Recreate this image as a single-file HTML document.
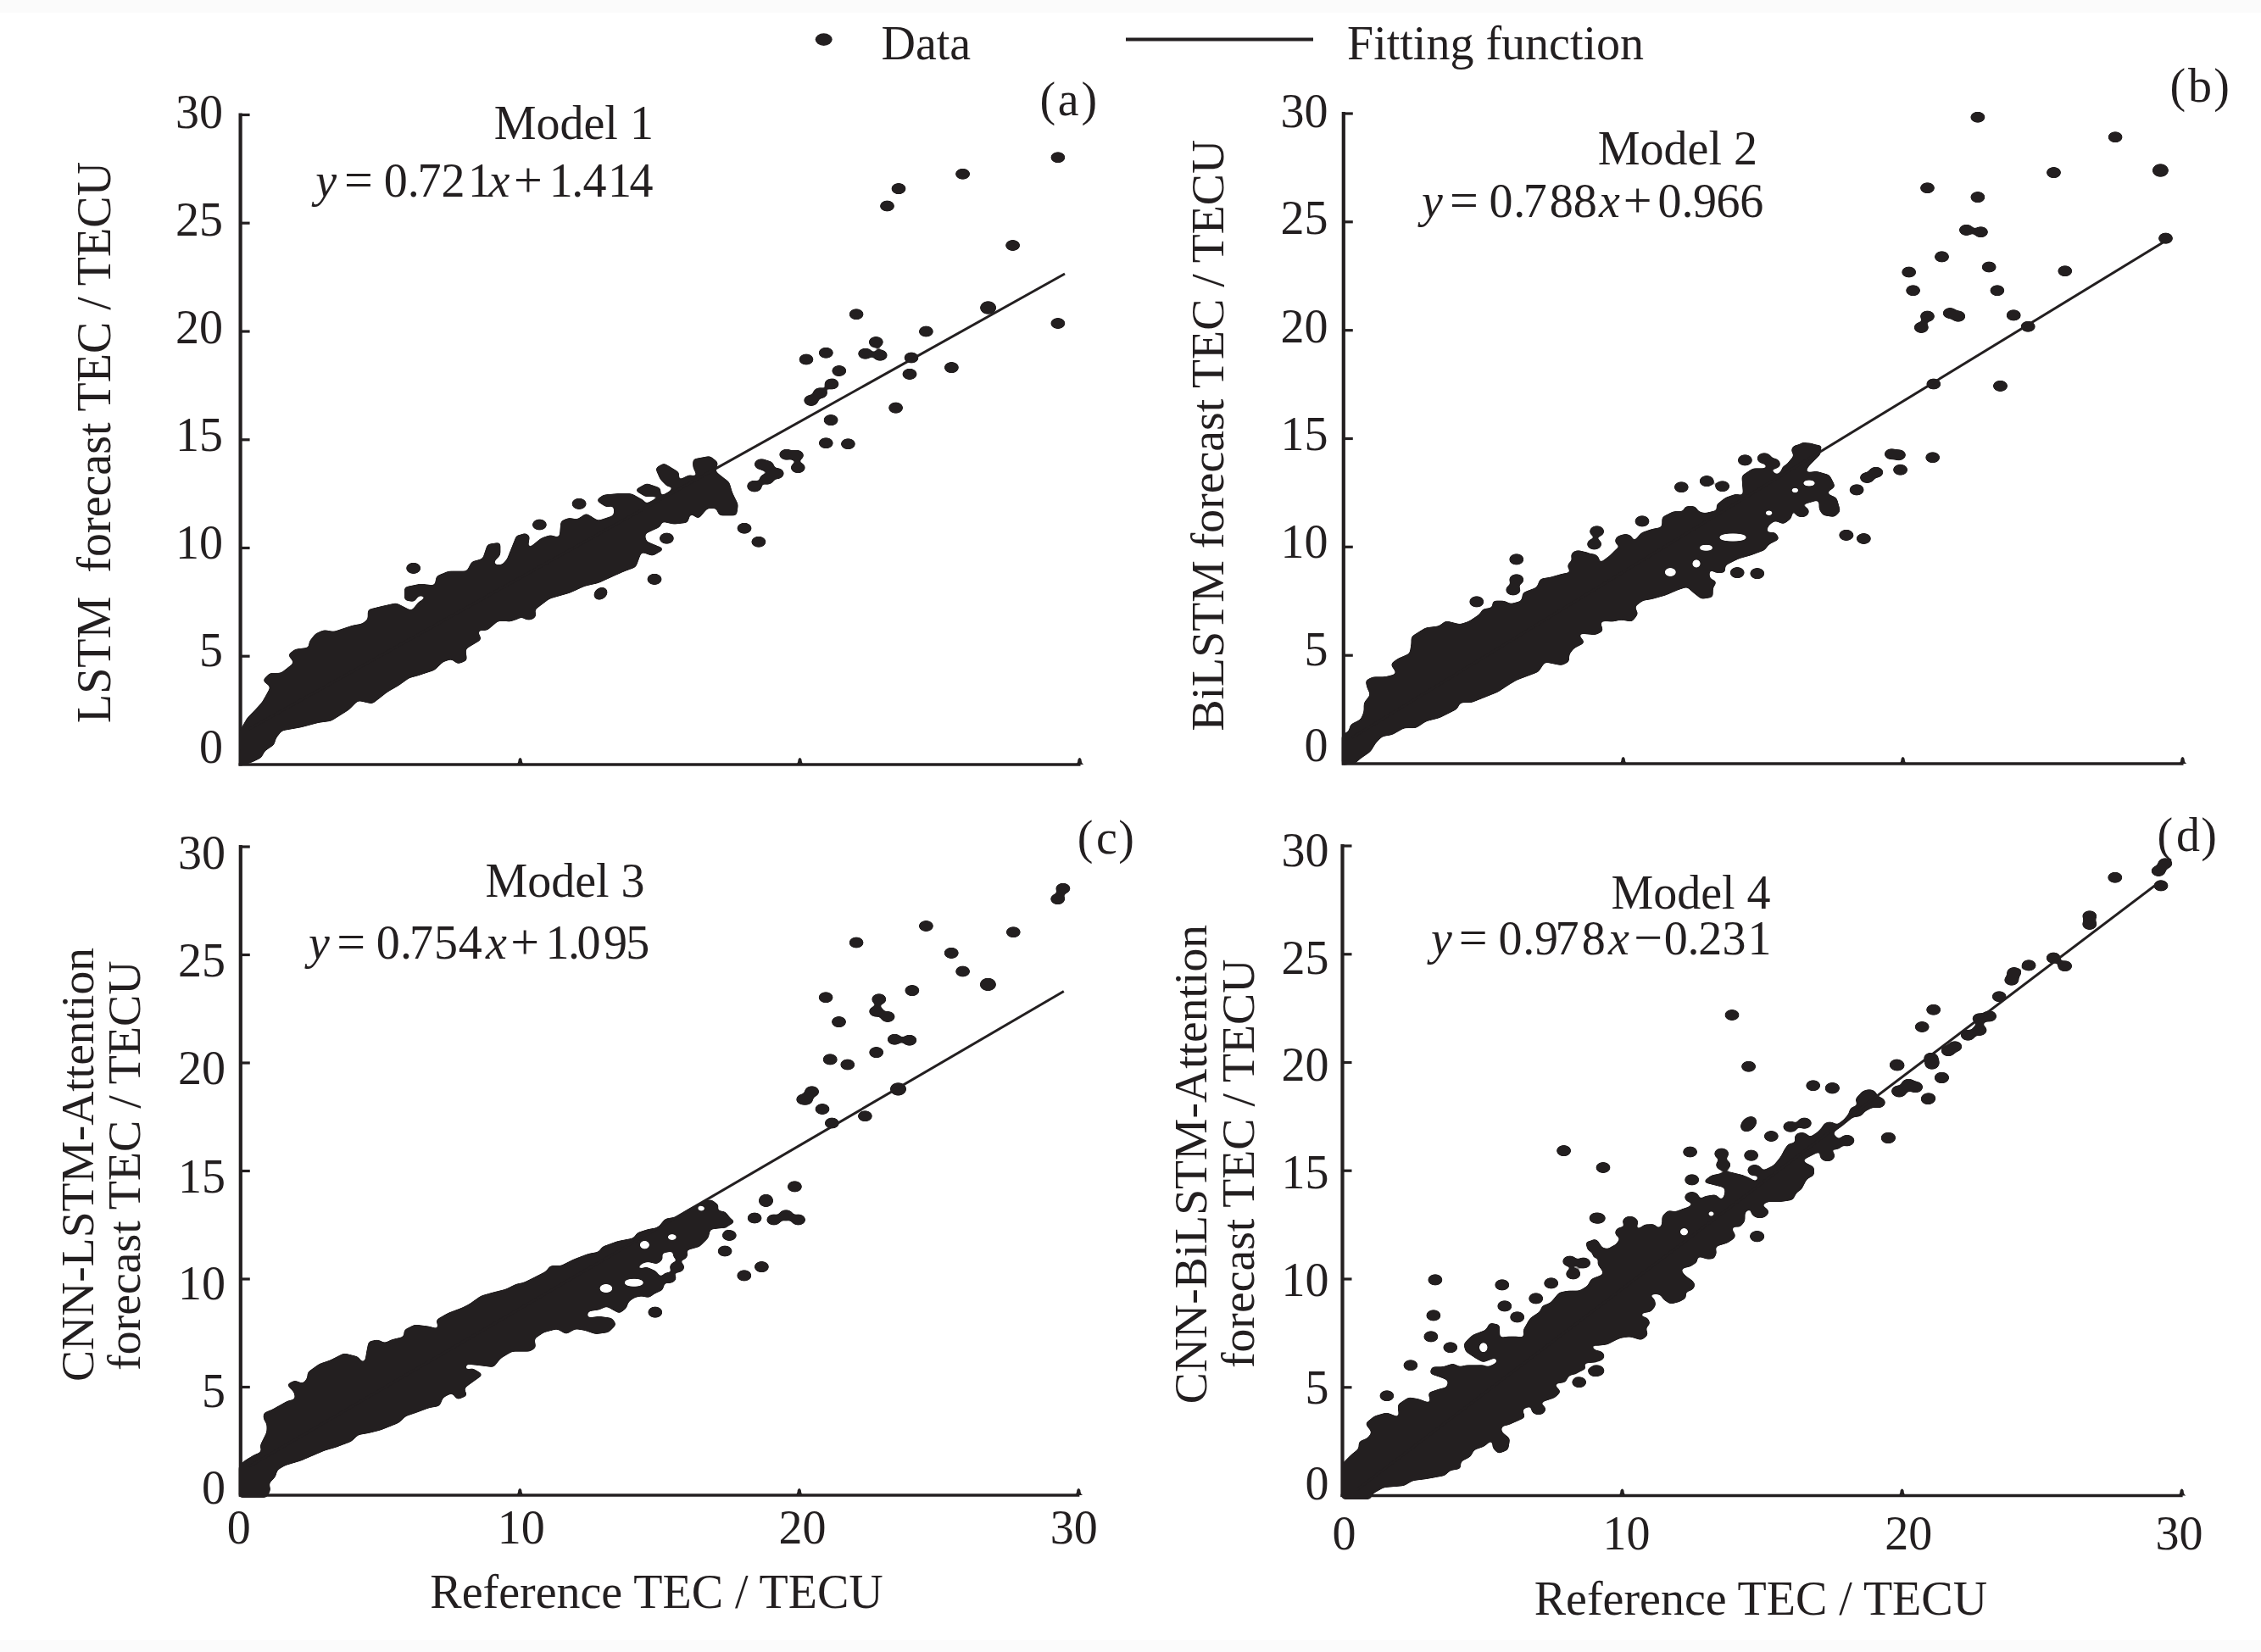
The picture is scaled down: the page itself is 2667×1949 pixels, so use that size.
<!DOCTYPE html>
<html><head><meta charset="utf-8"><style>
html,body{margin:0;padding:0;background:#fff;}
svg{display:block;}
</style></head><body>
<svg width="2667" height="1949" viewBox="0 0 2667 1949" fill="#231f20" font-family="'Liberation Serif', serif">
<rect x="0" y="0" width="2667" height="1949" fill="#fff"/>
<rect x="0" y="0" width="2667" height="15" fill="#fbfbfb"/>
<rect x="0" y="1935" width="2667" height="14" fill="#fbfbfb"/>
<ellipse cx="971.7" cy="46.6" rx="10" ry="7.3" fill="#231f20"/>
<text x="1039.5" y="69.5" font-size="56" text-anchor="start" >Data</text>
<path d="M1328,46.5 H1549" stroke="#231f20" stroke-width="4" fill="none"/>
<text x="1589" y="69.5" font-size="56" text-anchor="start" >Fitting function</text>
<text x="263" y="151.2" font-size="56" text-anchor="end" >30</text>
<text x="263" y="278.3" font-size="56" text-anchor="end" >25</text>
<text x="263" y="405.3" font-size="56" text-anchor="end" >20</text>
<text x="263" y="532.3" font-size="56" text-anchor="end" >15</text>
<text x="263" y="659" font-size="56" text-anchor="end" >10</text>
<text x="263" y="785.8" font-size="56" text-anchor="end" >5</text>
<text x="263" y="900" font-size="56" text-anchor="end" >0</text>
<text x="1566.5" y="149.7" font-size="56" text-anchor="end" >30</text>
<text x="1566.5" y="275.6" font-size="56" text-anchor="end" >25</text>
<text x="1566.5" y="403.9" font-size="56" text-anchor="end" >20</text>
<text x="1566.5" y="531.3" font-size="56" text-anchor="end" >15</text>
<text x="1566.5" y="657.7" font-size="56" text-anchor="end" >10</text>
<text x="1566.5" y="785.2" font-size="56" text-anchor="end" >5</text>
<text x="1566.5" y="897.8" font-size="56" text-anchor="end" >0</text>
<text x="266" y="1024.5" font-size="56" text-anchor="end" >30</text>
<text x="266" y="1151.5" font-size="56" text-anchor="end" >25</text>
<text x="266" y="1278.5" font-size="56" text-anchor="end" >20</text>
<text x="266" y="1406.5" font-size="56" text-anchor="end" >15</text>
<text x="266" y="1533.1" font-size="56" text-anchor="end" >10</text>
<text x="266" y="1660.1" font-size="56" text-anchor="end" >5</text>
<text x="266" y="1773.5" font-size="56" text-anchor="end" >0</text>
<text x="1567.5" y="1022" font-size="56" text-anchor="end" >30</text>
<text x="1567.5" y="1148.5" font-size="56" text-anchor="end" >25</text>
<text x="1567.5" y="1275" font-size="56" text-anchor="end" >20</text>
<text x="1567.5" y="1402" font-size="56" text-anchor="end" >15</text>
<text x="1567.5" y="1528.5" font-size="56" text-anchor="end" >10</text>
<text x="1567.5" y="1655.5" font-size="56" text-anchor="end" >5</text>
<text x="1567.5" y="1769" font-size="56" text-anchor="end" >0</text>
<text x="267.8" y="1820.5" font-size="56" text-anchor="start" >0</text>
<text x="586.8" y="1820.5" font-size="56" text-anchor="start" >10</text>
<text x="918.5" y="1820.5" font-size="56" text-anchor="start" >20</text>
<text x="1238.8" y="1820.5" font-size="56" text-anchor="start" >30</text>
<text x="1571.6" y="1828.2" font-size="56" text-anchor="start" >0</text>
<text x="1890.6" y="1828.2" font-size="56" text-anchor="start" >10</text>
<text x="2223.3" y="1828.2" font-size="56" text-anchor="start" >20</text>
<text x="2542.6" y="1828.2" font-size="56" text-anchor="start" >30</text>
<text x="507.3" y="1896.8" font-size="56" text-anchor="start" >Reference TEC / TECU</text>
<text x="1809.7" y="1904.5" font-size="56" text-anchor="start" >Reference TEC / TECU</text>
<text transform="translate(130.3,853) rotate(-90)" font-size="56">LSTM&#160; forecast TEC / TECU</text>
<text transform="translate(1442.7,862.6) rotate(-90)" font-size="55.76">BiLSTM forecast TEC / TECU</text>
<text transform="translate(110,1629.9) rotate(-90)" font-size="55.5">CNN-LSTM-Attention</text>
<text transform="translate(165,1616.9) rotate(-90)" font-size="55.86">forecast TEC / TECU</text>
<text transform="translate(1423,1656.2) rotate(-90)" font-size="55.6">CNN-BiLSTM-Attention</text>
<text transform="translate(1478.5,1614.1) rotate(-90)" font-size="55.75">forecast TEC / TECU</text>
<text x="770.9" y="164" font-size="56" text-anchor="end" >Model 1</text>
<text x="2073" y="193.5" font-size="56" text-anchor="end" >Model 2</text>
<text x="760.6" y="1058" font-size="56" text-anchor="end" >Model 3</text>
<text x="2088.6" y="1071.6" font-size="56" text-anchor="end" >Model 4</text>
<text x="1226.6" y="136" font-size="56" text-anchor="start" >(</text>
<text x="1247.7" y="136" font-size="56" text-anchor="start" >a</text>
<text x="1275.4" y="136" font-size="56" text-anchor="start" >)</text>
<text x="2559.5" y="120.3" font-size="56" text-anchor="start" >(</text>
<text x="2580.9" y="120.3" font-size="56" text-anchor="start" >b</text>
<text x="2611.2" y="120.3" font-size="56" text-anchor="start" >)</text>
<text x="1270.7" y="1007.3" font-size="56" text-anchor="start" >(</text>
<text x="1292.9" y="1007.3" font-size="56" text-anchor="start" >c</text>
<text x="1319.2" y="1007.3" font-size="56" text-anchor="start" >)</text>
<text x="2544.5" y="1004.3" font-size="56" text-anchor="start" >(</text>
<text x="2566.9" y="1004.3" font-size="56" text-anchor="start" >d</text>
<text x="2596.3" y="1004.3" font-size="56" text-anchor="start" >)</text>
<text x="372.3" y="232.2" font-size="56" font-style="italic">y</text>
<text x="406.0" y="232.2" font-size="60">=</text>
<text x="452.7" y="232.2" font-size="56">0</text>
<text x="480.7" y="232.2" font-size="56">.</text>
<text x="492.5" y="232.2" font-size="56">7</text>
<text x="520.6" y="232.2" font-size="56">2</text>
<text x="551.9" y="232.2" font-size="56">1</text>
<text x="576.5" y="232.2" font-size="56" font-style="italic">x</text>
<text x="605.9" y="232.2" font-size="60">+</text>
<text x="647.8" y="232.2" font-size="56">1</text>
<text x="674.3" y="232.2" font-size="56">.</text>
<text x="687.6" y="232.2" font-size="56">4</text>
<text x="716.9" y="232.2" font-size="56">1</text>
<text x="742.6" y="232.2" font-size="56">4</text>
<text x="1677.1" y="255.5" font-size="56" font-style="italic">y</text>
<text x="1709.9" y="255.5" font-size="60">=</text>
<text x="1756.4" y="255.5" font-size="56">0</text>
<text x="1785.3" y="255.5" font-size="56">.</text>
<text x="1796.7" y="255.5" font-size="56">7</text>
<text x="1827.7" y="255.5" font-size="56">8</text>
<text x="1855.7" y="255.5" font-size="56">8</text>
<text x="1886.1" y="255.5" font-size="56" font-style="italic">x</text>
<text x="1914.7" y="255.5" font-size="60">+</text>
<text x="1955.5" y="255.5" font-size="56">0</text>
<text x="1983.4" y="255.5" font-size="56">.</text>
<text x="1997.1" y="255.5" font-size="56">9</text>
<text x="2024.6" y="255.5" font-size="56">6</text>
<text x="2052.2" y="255.5" font-size="56">6</text>
<text x="364.0" y="1131.1" font-size="56" font-style="italic">y</text>
<text x="397.2" y="1131.1" font-size="60">=</text>
<text x="443.7" y="1131.1" font-size="56">0</text>
<text x="472.1" y="1131.1" font-size="56">.</text>
<text x="483.0" y="1131.1" font-size="56">7</text>
<text x="511.9" y="1131.1" font-size="56">5</text>
<text x="540.7" y="1131.1" font-size="56">4</text>
<text x="573.0" y="1131.1" font-size="56" font-style="italic">x</text>
<text x="602.2" y="1131.1" font-size="60">+</text>
<text x="643.4" y="1131.1" font-size="56">1</text>
<text x="669.9" y="1131.1" font-size="56">.</text>
<text x="680.5" y="1131.1" font-size="56">0</text>
<text x="712.1" y="1131.1" font-size="56">9</text>
<text x="738.2" y="1131.1" font-size="56">5</text>
<text x="1688.0" y="1126" font-size="56" font-style="italic">y</text>
<text x="1720.8" y="1126" font-size="60">=</text>
<text x="1767.4" y="1126" font-size="56">0</text>
<text x="1796.2" y="1126" font-size="56">.</text>
<text x="1809.9" y="1126" font-size="56">9</text>
<text x="1834.6" y="1126" font-size="56">7</text>
<text x="1865.7" y="1126" font-size="56">8</text>
<text x="1897.0" y="1126" font-size="56" font-style="italic">x</text>
<text x="1927.2" y="1126" font-size="60">−</text>
<text x="1962.7" y="1126" font-size="56">0</text>
<text x="1990.6" y="1126" font-size="56">.</text>
<text x="2003.2" y="1126" font-size="56">2</text>
<text x="2031.5" y="1126" font-size="56">3</text>
<text x="2061.6" y="1126" font-size="56">1</text>
<path d="M283.6,133.5 V903.5" stroke="#231f20" stroke-width="4.2" fill="none"/>
<path d="M281.6,902.0 H1274.5" stroke="#231f20" stroke-width="3.4" fill="none"/>
<path d="M283.6,774.2 h11" stroke="#231f20" stroke-width="3.2" fill="none"/>
<path d="M283.6,646.5 h11" stroke="#231f20" stroke-width="3.2" fill="none"/>
<path d="M283.6,518.8 h11" stroke="#231f20" stroke-width="3.2" fill="none"/>
<path d="M283.6,391.0 h11" stroke="#231f20" stroke-width="3.2" fill="none"/>
<path d="M283.6,263.2 h11" stroke="#231f20" stroke-width="3.2" fill="none"/>
<path d="M283.6,135.5 h11" stroke="#231f20" stroke-width="3.2" fill="none"/>
<path d="M608.6,902.0 Q611.4,901.0 611.6,896.0 Q613.6,892.0 615.6,896.0 Q615.8,901.0 618.6,902.0Z" fill="#231f20"/>
<path d="M938.5,902.0 Q941.3,901.0 941.5,896.0 Q943.5,892.0 945.5,896.0 Q945.7,901.0 948.5,902.0Z" fill="#231f20"/>
<path d="M1268.5,902.0 Q1271.3,901.0 1271.5,896.0 Q1273.5,892.0 1275.5,896.0 Q1275.7,901.0 1278.5,902.0Z" fill="#231f20"/>
<path d="M1584.8,132.0 V902.5" stroke="#231f20" stroke-width="4.2" fill="none"/>
<path d="M1582.8,901.0 H2575.5" stroke="#231f20" stroke-width="3.4" fill="none"/>
<path d="M1584.8,773.2 h11" stroke="#231f20" stroke-width="3.2" fill="none"/>
<path d="M1584.8,645.3 h11" stroke="#231f20" stroke-width="3.2" fill="none"/>
<path d="M1584.8,517.5 h11" stroke="#231f20" stroke-width="3.2" fill="none"/>
<path d="M1584.8,389.7 h11" stroke="#231f20" stroke-width="3.2" fill="none"/>
<path d="M1584.8,261.8 h11" stroke="#231f20" stroke-width="3.2" fill="none"/>
<path d="M1584.8,134.0 h11" stroke="#231f20" stroke-width="3.2" fill="none"/>
<path d="M1909.7,901.0 Q1912.5,900.0 1912.7,895.0 Q1914.7,891.0 1916.7,895.0 Q1916.9,900.0 1919.7,901.0Z" fill="#231f20"/>
<path d="M2239.6,901.0 Q2242.4,900.0 2242.6,895.0 Q2244.6,891.0 2246.6,895.0 Q2246.8,900.0 2249.6,901.0Z" fill="#231f20"/>
<path d="M2569.5,901.0 Q2572.3,900.0 2572.5,895.0 Q2574.5,891.0 2576.5,895.0 Q2576.7,900.0 2579.5,901.0Z" fill="#231f20"/>
<path d="M283.8,997.0 V1765.5" stroke="#231f20" stroke-width="4.2" fill="none"/>
<path d="M281.8,1764.0 H1273.3" stroke="#231f20" stroke-width="3.4" fill="none"/>
<path d="M283.8,1636.5 h11" stroke="#231f20" stroke-width="3.2" fill="none"/>
<path d="M283.8,1509.0 h11" stroke="#231f20" stroke-width="3.2" fill="none"/>
<path d="M283.8,1381.5 h11" stroke="#231f20" stroke-width="3.2" fill="none"/>
<path d="M283.8,1254.0 h11" stroke="#231f20" stroke-width="3.2" fill="none"/>
<path d="M283.8,1126.5 h11" stroke="#231f20" stroke-width="3.2" fill="none"/>
<path d="M283.8,999.0 h11" stroke="#231f20" stroke-width="3.2" fill="none"/>
<path d="M608.3,1764.0 Q611.1,1763.0 611.3,1758.0 Q613.3,1754.0 615.3,1758.0 Q615.5,1763.0 618.3,1764.0Z" fill="#231f20"/>
<path d="M937.8,1764.0 Q940.6,1763.0 940.8,1758.0 Q942.8,1754.0 944.8,1758.0 Q945.0,1763.0 947.8,1764.0Z" fill="#231f20"/>
<path d="M1267.3,1764.0 Q1270.1,1763.0 1270.3,1758.0 Q1272.3,1754.0 1274.3,1758.0 Q1274.5,1763.0 1277.3,1764.0Z" fill="#231f20"/>
<path d="M1583.5,996.0 V1766.0" stroke="#231f20" stroke-width="4.2" fill="none"/>
<path d="M1581.5,1764.5 H2574.6" stroke="#231f20" stroke-width="3.4" fill="none"/>
<path d="M1583.5,1636.8 h11" stroke="#231f20" stroke-width="3.2" fill="none"/>
<path d="M1583.5,1509.0 h11" stroke="#231f20" stroke-width="3.2" fill="none"/>
<path d="M1583.5,1381.2 h11" stroke="#231f20" stroke-width="3.2" fill="none"/>
<path d="M1583.5,1253.5 h11" stroke="#231f20" stroke-width="3.2" fill="none"/>
<path d="M1583.5,1125.8 h11" stroke="#231f20" stroke-width="3.2" fill="none"/>
<path d="M1583.5,998.0 h11" stroke="#231f20" stroke-width="3.2" fill="none"/>
<path d="M1908.5,1764.5 Q1911.3,1763.5 1911.5,1758.5 Q1913.5,1754.5 1915.5,1758.5 Q1915.7,1763.5 1918.5,1764.5Z" fill="#231f20"/>
<path d="M2238.6,1764.5 Q2241.4,1763.5 2241.6,1758.5 Q2243.6,1754.5 2245.6,1758.5 Q2245.8,1763.5 2248.6,1764.5Z" fill="#231f20"/>
<path d="M2568.6,1764.5 Q2571.4,1763.5 2571.6,1758.5 Q2573.6,1754.5 2575.6,1758.5 Q2575.8,1763.5 2578.6,1764.5Z" fill="#231f20"/>
<defs><filter id="goo" color-interpolation-filters="sRGB" filterUnits="userSpaceOnUse" x="0" y="0" width="2667" height="1949"><feGaussianBlur in="SourceAlpha" stdDeviation="2.2" result="b"/><feComponentTransfer in="b" result="t"><feFuncA type="linear" slope="8" intercept="-3.6"/></feComponentTransfer><feFlood flood-color="#231f20"/><feComposite operator="in" in2="t"/></filter><mask id="holes" maskUnits="userSpaceOnUse" x="0" y="0" width="2667" height="1949"><rect x="0" y="0" width="2667" height="1949" fill="#fff"/><ellipse cx="2044.0" cy="634.0" rx="17" ry="4.5" fill="#000"/><ellipse cx="2012.5" cy="646.3" rx="9" ry="3.5" fill="#000"/><ellipse cx="1970.3" cy="675.1" rx="7" ry="5" fill="#000"/><ellipse cx="2001.0" cy="665.0" rx="5" ry="5" fill="#000"/><ellipse cx="2117.4" cy="578.4" rx="5" ry="3" fill="#000"/><ellipse cx="2134.0" cy="570.0" rx="8" ry="3.5" fill="#000"/><ellipse cx="2086.6" cy="605.2" rx="5" ry="3" fill="#000"/><ellipse cx="760.4" cy="1468.8" rx="6" ry="5" fill="#000"/><ellipse cx="792.8" cy="1459.6" rx="6" ry="3.5" fill="#000"/><ellipse cx="747.8" cy="1513.3" rx="12" ry="4.5" fill="#000"/><ellipse cx="714.9" cy="1520.1" rx="8" ry="5" fill="#000"/><ellipse cx="827.2" cy="1425.7" rx="5" ry="3" fill="#000"/><ellipse cx="1986.5" cy="1453.3" rx="5" ry="4.5" fill="#000"/><ellipse cx="2018.5" cy="1432.0" rx="4" ry="3" fill="#000"/><ellipse cx="1749.8" cy="1589.8" rx="5" ry="6" fill="#000"/></mask></defs>
<g filter="url(#goo)"><g mask="url(#holes)">
<polygon points="284.1,862.7 292.5,847.7 301.9,838.3 310.3,829.0 320.7,810.2 311.3,802.7 318.8,795.2 331.9,795.2 348.8,782.0 341.3,772.7 348.8,767.0 365.7,765.1 365.7,757.6 373.2,748.3 382.6,744.5 393.9,746.4 416.4,738.9 427.6,737.0 435.1,731.4 435.1,720.1 450.2,716.4 467.1,712.6 485.8,722.0 495.2,710.7 508.3,703.2 493.3,701.3 487.7,708.8 478.3,707.0 478.3,693.8 495.2,690.1 514.0,692.0 515.8,680.7 529.0,675.1 551.5,675.1 557.1,663.8 570.3,660.1 575.9,643.2 589.0,641.3 589.0,654.4 581.5,661.9 581.5,667.6 592.8,667.6 607.8,650.7 609.7,633.8 620.0,630.0 620.0,720.1 611.6,727.6 600.3,731.4 587.2,731.4 574.0,742.6 560.9,742.6 566.5,753.9 547.7,765.1 549.6,778.3 540.2,782.0 532.7,776.4 521.5,780.2 512.1,789.5 495.2,795.2 482.1,798.9 468.9,808.3 455.8,815.8 438.9,829.0 422.0,825.2 410.8,836.5 390.1,849.6 375.1,851.5 354.5,857.1 331.9,860.9 324.4,870.2 322.5,877.7 311.3,885.3 307.5,892.8 296.3,898.4 285.0,902.1" stroke="#231f20" stroke-width="3" stroke-linejoin="round"/>
<ellipse cx="487.7" cy="670.4" rx="9" ry="6.8"/>
<polygon points="600.0,658.0 610.2,632.5 623.7,632.5 620.3,651.2 639.0,635.9 649.2,632.5 661.0,635.9 662.7,615.6 671.2,612.2 681.4,613.9 691.5,607.1 705.1,615.6 725.4,608.8 725.4,595.3 715.3,596.9 705.1,590.2 711.9,585.1 728.8,583.4 744.1,583.4 759.3,591.9 759.3,596.9 776.3,588.5 791.5,580.0 803.4,566.4 813.6,561.4 825.4,564.7 818.6,551.2 818.6,542.7 837.3,539.3 845.8,546.1 842.4,556.3 850.8,563.1 859.3,569.8 862.7,581.7 869.5,595.3 867.8,607.1 849.2,607.1 845.8,598.6 833.9,598.6 823.7,610.5 813.6,603.7 810.2,615.6 794.9,617.3 779.7,613.9 778.0,620.7 759.3,629.2 761.0,639.3 781.4,647.8 769.5,654.6 755.9,649.5 749.2,668.1 735.6,673.2 723.7,678.3 705.1,686.8 689.8,690.2 671.2,698.6 647.5,705.4 627.1,720.7 610.2,729.2 600.0,732.5" stroke="#231f20" stroke-width="3" stroke-linejoin="round"/>
<polygon points="774.6,552.9 783.1,547.8 800.0,558.0 798.3,571.5 788.1,573.2 779.7,564.7" stroke="#231f20" stroke-width="3" stroke-linejoin="round"/>
<polygon points="750.8,578.3 762.7,571.5 778.0,576.6 778.0,583.4 762.7,585.1" stroke="#231f20" stroke-width="3" stroke-linejoin="round"/>
<ellipse cx="683.1" cy="594.4" rx="9" ry="6.8"/>
<ellipse cx="636.4" cy="619.0" rx="9" ry="6.8"/>
<ellipse cx="786.4" cy="635.1" rx="9" ry="6.8"/>
<ellipse cx="772.0" cy="683.4" rx="9" ry="6.8"/>
<ellipse cx="708.5" cy="700.3" rx="9" ry="7" transform="rotate(-35 708.5 700.3)"/>
<ellipse cx="623.7" cy="724.9" rx="9" ry="6.8"/>
<ellipse cx="878.0" cy="623.2" rx="9" ry="6.8"/>
<ellipse cx="894.9" cy="639.3" rx="9" ry="6.8"/>
<ellipse cx="889.8" cy="573.2" rx="9" ry="6.8"/>
<ellipse cx="898.3" cy="547.8" rx="9" ry="6.8"/>
<ellipse cx="1010.1" cy="370.7" rx="9" ry="6.8"/>
<ellipse cx="1092.4" cy="391.0" rx="9" ry="6.8"/>
<ellipse cx="1033.3" cy="403.6" rx="9" ry="6.8"/>
<ellipse cx="1020.7" cy="417.2" rx="9" ry="6.8"/>
<ellipse cx="1038.2" cy="419.1" rx="9" ry="6.8"/>
<ellipse cx="951.0" cy="424.0" rx="9" ry="6.8"/>
<ellipse cx="974.3" cy="416.2" rx="9" ry="6.8"/>
<ellipse cx="989.8" cy="437.5" rx="9" ry="6.8"/>
<ellipse cx="981.0" cy="453.0" rx="9" ry="6.8"/>
<ellipse cx="967.5" cy="463.7" rx="9" ry="6.8"/>
<ellipse cx="956.8" cy="472.4" rx="9" ry="6.8"/>
<ellipse cx="1075.0" cy="422.0" rx="9" ry="6.8"/>
<ellipse cx="1073.0" cy="441.4" rx="9" ry="6.8"/>
<ellipse cx="1122.4" cy="433.6" rx="9" ry="6.8"/>
<ellipse cx="1056.6" cy="481.1" rx="9" ry="6.8"/>
<ellipse cx="980.1" cy="495.6" rx="9" ry="6.8"/>
<ellipse cx="974.3" cy="522.7" rx="9" ry="6.8"/>
<ellipse cx="1000.4" cy="523.7" rx="9" ry="6.8"/>
<ellipse cx="927.8" cy="536.3" rx="9" ry="6.8"/>
<ellipse cx="939.4" cy="537.2" rx="9" ry="6.8"/>
<ellipse cx="941.3" cy="551.8" rx="9" ry="6.8"/>
<ellipse cx="904.5" cy="549.8" rx="9" ry="6.8"/>
<ellipse cx="916.2" cy="558.6" rx="9" ry="6.8"/>
<ellipse cx="904.5" cy="565.3" rx="9" ry="6.8"/>
<ellipse cx="890.0" cy="574.0" rx="9" ry="6.8"/>
<ellipse cx="1247.9" cy="185.8" rx="9" ry="6.8"/>
<ellipse cx="1135.6" cy="205.2" rx="9" ry="6.8"/>
<ellipse cx="1060.0" cy="222.6" rx="9" ry="6.8"/>
<ellipse cx="1046.5" cy="243.0" rx="9" ry="6.8"/>
<ellipse cx="1194.6" cy="289.5" rx="9" ry="6.8"/>
<ellipse cx="1165.6" cy="363.1" rx="10" ry="8"/>
<ellipse cx="1247.9" cy="381.5" rx="9" ry="6.8"/>
<polygon points="1584.0,867.7 1592.0,863.7 1594.0,855.7 1606.0,849.7 1610.0,839.7 1610.0,829.7 1617.9,819.7 1613.9,811.7 1612.0,803.7 1619.9,799.7 1633.9,799.7 1649.9,795.8 1641.9,783.8 1649.9,777.8 1663.9,771.8 1665.9,759.8 1665.9,751.8 1681.9,741.8 1697.9,739.8 1705.8,733.8 1721.8,737.8 1733.8,733.8 1745.8,725.8 1749.8,719.8 1761.8,717.8 1761.8,709.9 1773.8,709.9 1781.8,713.8 1795.7,709.9 1797.7,699.9 1813.7,693.9 1817.7,683.9 1829.7,681.9 1843.7,677.9 1855.7,675.9 1851.7,667.9 1857.7,657.9 1869.7,651.9 1885.6,659.9 1881.6,669.9 1897.6,657.9 1909.6,651.9 1920.0,649.9 1920.0,727.8 1909.6,723.8 1905.6,731.8 1885.6,731.8 1889.6,743.8 1881.6,747.8 1857.7,745.8 1867.7,757.8 1855.7,763.8 1849.7,771.8 1849.7,779.8 1841.7,783.8 1821.7,779.8 1813.7,791.8 1797.7,797.8 1787.8,801.7 1777.8,807.7 1765.8,815.7 1745.8,823.7 1735.8,827.7 1721.8,827.7 1717.8,835.7 1697.9,845.7 1681.9,849.7 1669.9,857.7 1655.9,857.7 1641.9,865.7 1629.9,867.7 1621.9,875.7 1615.9,885.7 1602.0,895.6 1598.0,899.6 1584.0,901.6" stroke="#231f20" stroke-width="3" stroke-linejoin="round"/>
<ellipse cx="1741.8" cy="709.9" rx="9" ry="6.8"/>
<ellipse cx="1788.8" cy="659.9" rx="9" ry="6.8"/>
<ellipse cx="1788.8" cy="683.9" rx="9" ry="6.8"/>
<ellipse cx="1784.8" cy="695.9" rx="9" ry="6.8"/>
<ellipse cx="1883.6" cy="626.9" rx="9" ry="6.8"/>
<ellipse cx="1880.6" cy="641.9" rx="9" ry="6.8"/>
<ellipse cx="1913.6" cy="637.9" rx="9" ry="6.8"/>
<ellipse cx="1861.7" cy="655.9" rx="9" ry="6.8"/>
<ellipse cx="1877.6" cy="659.9" rx="9" ry="6.8"/>
<ellipse cx="1857.7" cy="667.9" rx="9" ry="6.8"/>
<polygon points="1900.0,656.0 1908.2,647.8 1924.7,643.7 1937.0,629.3 1949.4,625.2 1961.7,623.1 1961.7,610.8 1974.1,604.6 1986.4,604.6 1988.5,598.4 1998.8,598.4 2002.9,604.6 2011.1,606.7 2027.6,602.6 2025.5,596.4 2035.8,588.1 2048.1,584.0 2056.4,586.1 2068.7,584.0 2081.1,582.0 2093.4,579.9 2105.8,563.5 2103.7,551.1 2114.0,547.0 2120.2,551.1 2118.1,538.8 2122.2,526.4 2142.8,526.4 2146.9,534.7 2132.5,549.1 2126.3,559.3 2142.8,557.3 2157.2,561.4 2163.4,573.7 2151.0,582.0 2165.4,588.1 2169.5,602.6 2163.4,608.7 2151.0,606.7 2146.9,600.5 2146.9,588.1 2132.5,592.3 2114.0,596.4 2111.9,610.8 2103.7,617.0 2093.4,612.8 2085.2,619.0 2081.1,629.3 2093.4,629.3 2097.5,635.5 2085.2,641.6 2081.1,647.8 2064.6,654.0 2050.2,658.1 2033.7,666.3 2033.7,674.6 2023.5,674.6 2015.2,668.4 2015.2,682.8 2023.5,686.9 2019.3,693.1 2019.3,703.4 2007.0,705.4 1996.7,697.2 1990.5,691.0 1978.2,695.1 1963.8,701.3 1949.4,705.4 1937.0,707.5 1926.7,715.7 1930.9,724.0 1924.7,732.2 1912.3,730.1 1900.0,732.2" stroke="#231f20" stroke-width="3" stroke-linejoin="round"/>
<ellipse cx="1937.0" cy="614.9" rx="9" ry="6.8"/>
<ellipse cx="1917.5" cy="636.5" rx="9" ry="6.8"/>
<ellipse cx="1983.3" cy="574.8" rx="9" ry="6.8"/>
<ellipse cx="2013.2" cy="567.6" rx="9" ry="6.8"/>
<ellipse cx="2031.7" cy="573.7" rx="9" ry="6.8"/>
<ellipse cx="2058.4" cy="542.9" rx="9" ry="6.8"/>
<ellipse cx="2081.1" cy="540.8" rx="9" ry="6.8"/>
<ellipse cx="2091.4" cy="547.0" rx="9" ry="6.8"/>
<ellipse cx="2068.7" cy="561.4" rx="9" ry="6.8"/>
<ellipse cx="2125.3" cy="603.6" rx="9" ry="6.8"/>
<ellipse cx="2049.2" cy="675.6" rx="9" ry="6.8"/>
<ellipse cx="2072.8" cy="676.6" rx="9" ry="6.8"/>
<ellipse cx="2177.8" cy="631.4" rx="9" ry="6.8"/>
<ellipse cx="2198.4" cy="635.5" rx="9" ry="6.8"/>
<ellipse cx="2190.1" cy="577.9" rx="9" ry="6.8"/>
<ellipse cx="2202.5" cy="563.5" rx="9" ry="6.8"/>
<ellipse cx="2212.8" cy="557.3" rx="9" ry="6.8"/>
<ellipse cx="2241.6" cy="554.2" rx="9" ry="6.8"/>
<ellipse cx="2231.3" cy="535.7" rx="9" ry="6.8"/>
<ellipse cx="2239.5" cy="536.7" rx="9" ry="6.8"/>
<ellipse cx="2332.9" cy="138.2" rx="9" ry="6.8"/>
<ellipse cx="2495.1" cy="161.7" rx="9" ry="6.8"/>
<ellipse cx="2422.5" cy="203.6" rx="9" ry="6.8"/>
<ellipse cx="2548.4" cy="201.1" rx="10" ry="8"/>
<ellipse cx="2273.5" cy="221.7" rx="9" ry="6.8"/>
<ellipse cx="2332.9" cy="232.6" rx="9" ry="6.8"/>
<ellipse cx="2319.5" cy="271.4" rx="9" ry="6.8"/>
<ellipse cx="2336.5" cy="273.8" rx="9" ry="6.8"/>
<ellipse cx="2554.5" cy="281.1" rx="9" ry="6.8"/>
<ellipse cx="2290.5" cy="302.9" rx="9" ry="6.8"/>
<ellipse cx="2251.7" cy="321.0" rx="9" ry="6.8"/>
<ellipse cx="2346.2" cy="315.0" rx="9" ry="6.8"/>
<ellipse cx="2435.8" cy="319.8" rx="9" ry="6.8"/>
<ellipse cx="2256.6" cy="342.8" rx="9" ry="6.8"/>
<ellipse cx="2355.9" cy="342.8" rx="9" ry="6.8"/>
<ellipse cx="2273.5" cy="373.1" rx="9" ry="6.8"/>
<ellipse cx="2266.3" cy="386.4" rx="9" ry="6.8"/>
<ellipse cx="2300.2" cy="369.5" rx="9" ry="6.8"/>
<ellipse cx="2309.8" cy="373.1" rx="9" ry="6.8"/>
<ellipse cx="2375.2" cy="371.9" rx="9" ry="6.8"/>
<ellipse cx="2392.2" cy="385.2" rx="9" ry="6.8"/>
<ellipse cx="2280.8" cy="453.0" rx="9" ry="6.8"/>
<ellipse cx="2359.5" cy="455.4" rx="9" ry="6.8"/>
<ellipse cx="2279.7" cy="539.7" rx="9" ry="6.8"/>
<polygon points="2055.7,562.0 2068.1,553.7 2084.5,553.7 2096.9,562.0 2109.2,547.6 2119.5,535.2 2125.7,522.9 2148.3,527.0 2142.1,535.2 2121.6,551.7 2113.3,564.0 2101.0,576.4 2092.8,584.6 2068.1,590.8 2057.8,588.7" stroke="#231f20" stroke-width="3" stroke-linejoin="round"/>
<ellipse cx="2121.6" cy="531.1" rx="9" ry="6.8"/>
<ellipse cx="2133.9" cy="529.1" rx="9" ry="6.8"/>
<polygon points="283.0,1729.7 290.0,1723.7 300.0,1717.7 310.0,1713.7 308.0,1705.7 315.9,1689.7 315.9,1679.7 312.0,1673.7 312.0,1667.8 321.9,1663.8 339.9,1653.8 349.9,1651.8 347.9,1641.8 339.9,1633.8 347.9,1629.8 357.9,1633.8 363.9,1625.8 363.9,1619.8 377.9,1609.8 389.9,1605.8 405.8,1597.8 421.8,1601.8 427.8,1609.8 431.8,1605.8 433.8,1593.8 435.8,1583.8 445.8,1581.8 453.8,1585.8 461.8,1581.8 477.8,1577.9 477.8,1569.9 489.7,1563.9 505.7,1565.9 519.7,1569.9 515.7,1557.9 529.7,1549.9 545.7,1543.9 553.7,1539.9 567.7,1529.9 581.6,1525.9 597.6,1521.9 609.6,1515.9 620.0,1513.9 620.0,1591.8 609.6,1589.8 589.6,1601.8 581.6,1611.8 565.7,1609.8 549.7,1607.8 545.7,1617.8 557.7,1615.8 567.7,1621.8 553.7,1631.8 545.7,1637.8 549.7,1645.8 539.7,1649.8 533.7,1641.8 521.7,1647.8 517.7,1657.8 505.7,1659.8 489.7,1665.8 477.8,1669.7 469.8,1677.7 449.8,1685.7 433.8,1689.7 421.8,1691.7 413.8,1699.7 397.9,1705.7 383.9,1709.7 369.9,1715.7 355.9,1721.7 335.9,1727.7 325.9,1733.7 323.9,1741.7 315.9,1749.7 317.9,1757.6 313.9,1765.6 283.0,1765.6" stroke="#231f20" stroke-width="3" stroke-linejoin="round"/>
<polygon points="600.0,1521.3 616.5,1515.1 628.8,1509.0 645.3,1500.7 649.4,1494.6 661.7,1494.6 678.2,1486.3 694.7,1480.2 707.0,1478.1 711.1,1471.9 727.6,1465.8 748.1,1461.6 752.3,1455.5 764.6,1451.4 777.0,1449.3 785.2,1439.0 797.5,1437.0 814.0,1426.7 830.5,1418.4 838.7,1416.4 846.9,1422.6 842.8,1428.7 855.1,1430.8 861.3,1439.0 865.4,1441.1 855.1,1447.2 836.6,1449.3 834.6,1459.6 824.3,1469.9 810.7,1473.6 796.2,1474.6 778.8,1477.5 780.7,1485.2 774.9,1490.0 764.3,1487.2 757.5,1489.0 748.8,1495.9 753.6,1498.8 762.3,1495.9 773.0,1500.7 782.7,1513.3 780.7,1521.1 772.0,1524.8 765.2,1529.8 756.5,1527.8 747.7,1529.8 739.9,1535.6 738.1,1542.4 730.5,1548.2 715.2,1539.8 707.0,1544.0 692.6,1546.0 690.5,1556.3 707.0,1554.2 721.4,1556.3 725.5,1562.5 717.3,1570.7 702.9,1572.8 690.5,1568.6 678.2,1566.6 667.9,1572.8 657.6,1566.6 641.2,1570.7 628.8,1578.9 630.9,1589.2 624.7,1593.3 612.3,1593.3 600.0,1593.3" stroke="#231f20" stroke-width="3" stroke-linejoin="round"/>
<ellipse cx="860.3" cy="1457.5" rx="9" ry="6.8"/>
<ellipse cx="855.1" cy="1476.0" rx="9" ry="6.8"/>
<ellipse cx="903.5" cy="1416.4" rx="9" ry="8"/>
<ellipse cx="937.4" cy="1399.9" rx="9" ry="6.8"/>
<ellipse cx="890.1" cy="1437.0" rx="9" ry="6.8"/>
<ellipse cx="912.8" cy="1439.0" rx="9" ry="6.8"/>
<ellipse cx="927.2" cy="1433.9" rx="9" ry="6.8"/>
<ellipse cx="941.6" cy="1439.0" rx="9" ry="6.8"/>
<ellipse cx="898.4" cy="1494.6" rx="9" ry="6.8"/>
<ellipse cx="877.8" cy="1504.9" rx="9" ry="6.8"/>
<ellipse cx="772.8" cy="1548.1" rx="9" ry="6.8"/>
<ellipse cx="947.7" cy="1297.0" rx="9" ry="6.8"/>
<ellipse cx="1253.9" cy="1048.2" rx="9" ry="6.8"/>
<ellipse cx="1247.7" cy="1060.6" rx="9" ry="6.8"/>
<ellipse cx="1092.4" cy="1092.5" rx="9" ry="6.8"/>
<ellipse cx="1195.3" cy="1099.7" rx="9" ry="6.8"/>
<ellipse cx="1010.1" cy="1112.0" rx="9" ry="6.8"/>
<ellipse cx="1122.2" cy="1124.4" rx="9" ry="6.8"/>
<ellipse cx="1135.6" cy="1146.0" rx="9" ry="6.8"/>
<ellipse cx="1165.4" cy="1161.4" rx="10" ry="8"/>
<ellipse cx="1075.9" cy="1168.6" rx="9" ry="6.8"/>
<ellipse cx="974.1" cy="1176.8" rx="9" ry="6.8"/>
<ellipse cx="1036.8" cy="1178.9" rx="9" ry="6.8"/>
<ellipse cx="1033.7" cy="1193.3" rx="9" ry="6.8"/>
<ellipse cx="1047.1" cy="1199.5" rx="9" ry="6.8"/>
<ellipse cx="989.5" cy="1205.6" rx="9" ry="6.8"/>
<ellipse cx="1055.3" cy="1226.2" rx="9" ry="6.8"/>
<ellipse cx="1072.8" cy="1227.2" rx="9" ry="6.8"/>
<ellipse cx="1033.7" cy="1241.6" rx="9" ry="6.8"/>
<ellipse cx="979.2" cy="1249.9" rx="9" ry="6.8"/>
<ellipse cx="999.8" cy="1256.0" rx="9" ry="6.8"/>
<ellipse cx="957.6" cy="1287.9" rx="9" ry="6.8"/>
<ellipse cx="950.4" cy="1297.2" rx="9" ry="6.8"/>
<ellipse cx="970.0" cy="1308.5" rx="9" ry="6.8"/>
<ellipse cx="981.3" cy="1325.0" rx="9" ry="6.8"/>
<ellipse cx="1020.4" cy="1316.7" rx="9" ry="6.8"/>
<ellipse cx="1059.5" cy="1284.9" rx="10" ry="8"/>
<ellipse cx="802.5" cy="1480.4" rx="9" ry="6.8"/>
<ellipse cx="798.6" cy="1494.9" rx="9" ry="6.8"/>
<ellipse cx="789.0" cy="1507.5" rx="9" ry="6.8"/>
<polygon points="1584.0,1727.7 1594.0,1717.7 1604.0,1709.7 1604.0,1701.7 1613.9,1697.7 1619.9,1689.7 1612.0,1679.7 1621.9,1671.7 1635.9,1667.8 1645.9,1671.7 1651.9,1675.7 1649.9,1657.8 1661.9,1649.8 1673.9,1651.8 1689.9,1657.8 1685.9,1643.8 1697.9,1639.8 1707.8,1637.8 1709.8,1627.8 1699.9,1623.8 1687.9,1619.8 1689.9,1613.8 1701.8,1613.8 1713.8,1609.8 1721.8,1613.8 1729.8,1611.8 1747.8,1611.8 1755.8,1613.8 1767.8,1607.8 1765.8,1599.8 1749.8,1605.8 1741.8,1601.8 1729.8,1593.8 1727.8,1585.8 1737.8,1575.9 1753.8,1569.9 1757.8,1561.9 1767.8,1563.9 1767.8,1579.9 1777.8,1577.9 1789.7,1577.9 1799.7,1579.9 1797.7,1569.9 1805.7,1555.9 1817.7,1547.9 1819.7,1541.9 1829.7,1537.9 1839.7,1525.9 1849.7,1523.9 1863.7,1523.9 1873.7,1517.9 1877.6,1509.9 1893.6,1503.9 1897.6,1495.9 1887.6,1492.0 1887.6,1482.0 1873.7,1474.0 1871.7,1466.0 1883.6,1464.0 1889.6,1474.0 1901.6,1476.0 1909.6,1470.0 1920.0,1470.0 1920.0,1573.9 1909.6,1563.9 1897.6,1569.9 1909.6,1577.9 1897.6,1583.8 1889.6,1585.8 1871.7,1585.8 1887.6,1599.8 1881.6,1605.8 1863.7,1607.8 1869.7,1613.8 1857.7,1619.8 1849.7,1621.8 1845.7,1629.8 1829.7,1631.8 1839.7,1641.8 1833.7,1647.8 1821.7,1651.8 1799.7,1659.8 1793.7,1661.8 1797.7,1671.7 1779.8,1679.7 1769.8,1681.7 1769.8,1689.7 1779.8,1697.7 1777.8,1709.7 1767.8,1713.7 1761.8,1707.7 1761.8,1695.7 1749.8,1705.7 1737.8,1709.7 1733.8,1717.7 1721.8,1723.7 1721.8,1731.7 1709.8,1733.7 1703.8,1739.7 1681.9,1743.7 1665.9,1745.7 1655.9,1751.7 1631.9,1753.7 1617.9,1761.6 1615.9,1767.6 1584.0,1767.6" stroke="#231f20" stroke-width="3" stroke-linejoin="round"/>
<ellipse cx="1692.9" cy="1509.9" rx="9" ry="6.8"/>
<ellipse cx="1771.8" cy="1515.9" rx="9" ry="6.8"/>
<ellipse cx="1690.9" cy="1551.9" rx="9" ry="6.8"/>
<ellipse cx="1774.8" cy="1540.9" rx="9" ry="6.8"/>
<ellipse cx="1789.7" cy="1553.9" rx="9" ry="6.8"/>
<ellipse cx="1811.7" cy="1531.9" rx="9" ry="6.8"/>
<ellipse cx="1687.9" cy="1576.9" rx="9" ry="6.8"/>
<ellipse cx="1710.8" cy="1589.8" rx="9" ry="6.8"/>
<ellipse cx="1663.9" cy="1610.8" rx="9" ry="6.8"/>
<ellipse cx="1635.9" cy="1646.8" rx="9" ry="6.8"/>
<ellipse cx="1814.7" cy="1662.8" rx="9" ry="6.8"/>
<ellipse cx="1862.7" cy="1630.8" rx="9" ry="6.8"/>
<ellipse cx="1881.6" cy="1617.8" rx="9" ry="6.8"/>
<ellipse cx="1855.7" cy="1502.9" rx="9" ry="6.8"/>
<ellipse cx="1851.7" cy="1488.0" rx="9" ry="6.8"/>
<ellipse cx="1867.7" cy="1490.0" rx="9" ry="6.8"/>
<ellipse cx="1829.7" cy="1513.9" rx="9" ry="6.8"/>
<ellipse cx="1913.6" cy="1454.0" rx="9" ry="6.8"/>
<polygon points="1900.0,1472.2 1906.2,1470.1 1916.5,1455.7 1920.6,1445.4 1928.8,1443.4 1928.8,1453.7 1941.2,1445.4 1951.4,1447.5 1951.4,1457.8 1961.7,1445.4 1961.7,1435.1 1976.1,1431.0 1986.4,1426.9 1992.6,1424.9 2011.1,1412.5 2023.5,1410.5 2031.7,1418.7 2035.8,1408.4 2035.8,1400.2 2011.1,1394.0 2019.3,1387.8 2039.9,1383.7 2056.4,1387.8 2064.6,1391.9 2072.8,1396.0 2077.0,1383.7 2093.4,1375.5 2101.6,1365.2 2105.8,1357.0 2109.9,1350.8 2120.2,1348.7 2132.5,1344.6 2144.9,1336.4 2155.1,1326.1 2167.5,1328.1 2175.7,1322.0 2184.0,1311.7 2192.2,1305.5 2192.2,1295.2 2202.5,1287.0 2216.9,1295.2 2221.0,1303.5 2208.6,1305.5 2196.3,1311.7 2184.0,1317.9 2171.6,1328.1 2159.3,1336.4 2167.5,1344.6 2155.1,1352.8 2142.8,1359.0 2130.5,1365.2 2122.2,1369.3 2138.7,1377.5 2138.7,1385.8 2130.5,1389.9 2126.3,1398.1 2124.3,1402.2 2118.1,1406.3 2114.0,1414.6 2101.6,1416.6 2085.2,1416.6 2077.0,1420.7 2064.6,1424.9 2056.4,1429.0 2056.4,1441.3 2048.1,1445.4 2039.9,1447.5 2046.1,1457.8 2033.7,1464.0 2021.4,1468.1 2023.5,1478.4 2015.2,1484.5 2000.8,1480.4 1994.7,1488.6 1978.2,1494.8 1986.4,1505.1 1996.7,1513.3 1996.7,1519.9 1900.0,1519.9" stroke="#231f20" stroke-width="3" stroke-linejoin="round"/>
<ellipse cx="2043.0" cy="1197.5" rx="9" ry="6.8"/>
<ellipse cx="2062.6" cy="1258.2" rx="9" ry="6.8"/>
<ellipse cx="2237.4" cy="1256.1" rx="9" ry="6.8"/>
<ellipse cx="2138.7" cy="1280.8" rx="9" ry="6.8"/>
<ellipse cx="2161.3" cy="1283.9" rx="9" ry="6.8"/>
<ellipse cx="2239.5" cy="1287.0" rx="9" ry="6.8"/>
<ellipse cx="2227.2" cy="1342.6" rx="9" ry="6.8"/>
<ellipse cx="2178.8" cy="1345.6" rx="9" ry="6.8"/>
<ellipse cx="2155.1" cy="1363.1" rx="9" ry="6.8"/>
<ellipse cx="2062.6" cy="1326.1" rx="11" ry="8" transform="rotate(-40 2062.6 1326.1)"/>
<ellipse cx="2089.3" cy="1340.5" rx="9" ry="6.8"/>
<ellipse cx="2111.9" cy="1329.2" rx="9" ry="6.8"/>
<ellipse cx="2128.4" cy="1325.1" rx="9" ry="6.8"/>
<ellipse cx="2125.3" cy="1342.6" rx="9" ry="6.8"/>
<ellipse cx="1993.6" cy="1359.0" rx="9" ry="6.8"/>
<ellipse cx="2030.7" cy="1361.1" rx="9" ry="6.8"/>
<ellipse cx="2032.7" cy="1374.4" rx="9" ry="6.8"/>
<ellipse cx="2065.6" cy="1363.1" rx="9" ry="6.8"/>
<ellipse cx="2069.8" cy="1380.6" rx="9" ry="6.8"/>
<ellipse cx="1995.7" cy="1391.9" rx="9" ry="6.8"/>
<ellipse cx="1995.7" cy="1412.5" rx="9" ry="6.8"/>
<ellipse cx="2075.9" cy="1430.0" rx="10" ry="7.5"/>
<ellipse cx="2072.8" cy="1458.8" rx="9" ry="6.8"/>
<ellipse cx="1923.7" cy="1442.3" rx="9" ry="6.8"/>
<ellipse cx="1919.5" cy="1454.7" rx="9" ry="6.8"/>
<ellipse cx="2553.9" cy="1018.7" rx="9" ry="6.8"/>
<ellipse cx="2546.1" cy="1027.5" rx="9" ry="6.8"/>
<ellipse cx="2494.8" cy="1035.2" rx="9" ry="6.8"/>
<ellipse cx="2549.0" cy="1044.9" rx="9" ry="6.8"/>
<ellipse cx="2464.8" cy="1080.7" rx="9" ry="6.8"/>
<ellipse cx="2464.8" cy="1090.4" rx="9" ry="6.8"/>
<ellipse cx="2422.2" cy="1130.1" rx="9" ry="6.8"/>
<ellipse cx="2435.7" cy="1139.8" rx="9" ry="6.8"/>
<ellipse cx="2393.1" cy="1138.9" rx="9" ry="6.8"/>
<ellipse cx="2375.7" cy="1147.6" rx="9" ry="6.8"/>
<ellipse cx="2372.8" cy="1156.3" rx="9" ry="6.8"/>
<ellipse cx="2358.2" cy="1175.7" rx="9" ry="6.8"/>
<ellipse cx="2280.7" cy="1191.2" rx="9" ry="6.8"/>
<ellipse cx="2335.0" cy="1201.8" rx="9" ry="6.8"/>
<ellipse cx="2346.6" cy="1198.9" rx="9" ry="6.8"/>
<ellipse cx="2335.0" cy="1215.4" rx="9" ry="6.8"/>
<ellipse cx="2321.4" cy="1221.2" rx="9" ry="6.8"/>
<ellipse cx="2305.9" cy="1234.8" rx="9" ry="6.8"/>
<ellipse cx="2298.2" cy="1239.6" rx="9" ry="6.8"/>
<ellipse cx="2267.2" cy="1211.5" rx="9" ry="6.8"/>
<ellipse cx="2277.8" cy="1248.3" rx="9" ry="6.8"/>
<ellipse cx="2278.8" cy="1255.1" rx="9" ry="6.8"/>
<ellipse cx="2238.1" cy="1257.0" rx="9" ry="6.8"/>
<ellipse cx="2290.4" cy="1271.6" rx="9" ry="6.8"/>
<ellipse cx="2253.6" cy="1281.2" rx="9" ry="6.8"/>
<ellipse cx="2240.1" cy="1288.0" rx="9" ry="6.8"/>
<ellipse cx="2259.4" cy="1282.2" rx="9" ry="6.8"/>
<ellipse cx="2205.2" cy="1291.9" rx="9" ry="6.8"/>
<ellipse cx="2197.4" cy="1297.7" rx="9" ry="6.8"/>
<ellipse cx="2274.9" cy="1295.8" rx="9" ry="6.8"/>
<ellipse cx="2161.4" cy="1283.5" rx="9" ry="6.8"/>
<ellipse cx="2237.4" cy="1256.5" rx="9" ry="6.8"/>
<ellipse cx="2279.1" cy="1253.3" rx="9" ry="6.8"/>
<ellipse cx="2290.5" cy="1271.2" rx="9" ry="6.8"/>
<ellipse cx="2251.3" cy="1279.4" rx="9" ry="6.8"/>
<ellipse cx="2259.5" cy="1282.7" rx="9" ry="6.8"/>
<ellipse cx="2240.7" cy="1287.6" rx="9" ry="6.8"/>
<ellipse cx="2202.3" cy="1292.5" rx="9" ry="6.8"/>
<ellipse cx="2215.4" cy="1300.7" rx="9" ry="6.8"/>
<ellipse cx="2190.0" cy="1311.3" rx="9" ry="6.8"/>
<ellipse cx="2158.2" cy="1330.1" rx="9" ry="6.8"/>
<ellipse cx="2154.9" cy="1344.8" rx="9" ry="6.8"/>
<ellipse cx="2164.7" cy="1349.7" rx="9" ry="6.8"/>
<ellipse cx="2178.6" cy="1345.6" rx="9" ry="6.8"/>
<ellipse cx="2227.6" cy="1342.3" rx="9" ry="6.8"/>
<ellipse cx="2155.7" cy="1363.6" rx="9" ry="6.8"/>
<ellipse cx="2274.2" cy="1296.6" rx="9" ry="6.8"/>
<polygon points="1880.0,1462.6 1885.3,1467.9 1888.0,1473.3 1897.3,1474.6 1901.3,1478.6 1904.0,1470.6 1912.0,1469.3 1920.0,1473.3 1927.9,1471.9 1935.9,1465.3 1931.9,1457.3 1939.9,1446.6 1950.6,1445.3 1954.6,1449.3 1951.9,1462.6 1962.6,1457.3 1965.2,1453.3 1962.6,1446.6 1967.9,1440.0 1962.6,1434.7 1967.9,1429.3 1975.9,1430.7 1978.6,1437.3 1983.9,1437.3 1986.5,1428.0 1997.2,1424.0 2005.2,1420.0 2077.1,1420.0 2066.5,1422.7 2057.1,1429.3 2057.1,1440.0 2051.8,1446.6 2041.2,1445.3 2027.8,1444.0 2033.2,1448.0 2042.5,1453.3 2045.1,1460.0 2037.2,1465.3 2023.8,1469.3 2018.5,1470.6 2023.8,1477.3 2021.2,1483.9 2013.2,1483.9 2005.2,1479.9 1999.9,1482.6 2001.2,1487.9 1993.2,1493.3 1986.5,1494.6 1975.9,1498.6 1981.2,1505.2 1986.5,1509.2 1994.5,1510.6 1998.5,1515.9 1994.5,1521.2 1986.5,1523.9 1987.9,1530.5 1981.2,1534.5 1970.6,1537.2 1962.6,1531.9 1959.9,1526.5 1951.9,1525.2 1943.9,1526.5 1942.6,1529.2 1950.6,1533.2 1951.9,1539.9 1946.6,1546.5 1935.9,1547.9 1931.9,1553.2 1942.6,1555.8 1945.3,1561.2 1939.9,1566.5 1942.6,1574.5 1935.9,1579.8 1927.9,1577.2 1922.6,1575.8 1912.0,1577.2 1901.3,1581.2 1896.0,1585.1 1882.7,1586.5 1880.0,1585.1 1880.0,1510.6 1893.3,1509.2 1892.0,1499.9 1885.3,1490.6 1888.0,1483.9 1880.0,1482.6" stroke="#231f20" stroke-width="3" stroke-linejoin="round"/>
<ellipse cx="1885.3" cy="1437.3" rx="9" ry="6.8"/>
<ellipse cx="1922.6" cy="1441.3" rx="9" ry="6.8"/>
<ellipse cx="1920.0" cy="1456.0" rx="9" ry="6.8"/>
<ellipse cx="2075.8" cy="1430.0" rx="11" ry="6.5"/>
<ellipse cx="2072.5" cy="1458.6" rx="9" ry="6.8"/>
<ellipse cx="1884.0" cy="1599.8" rx="9" ry="6.8"/>
<ellipse cx="1884.0" cy="1617.1" rx="9" ry="6.8"/>
<ellipse cx="1844.6" cy="1357.6" rx="9" ry="6.8"/>
<ellipse cx="1891.0" cy="1377.5" rx="9" ry="6.8"/>
<ellipse cx="1883.0" cy="1437.0" rx="9" ry="6.8"/>
</g></g>
<path d="M293.5,860.3 L1256.0,323.0" stroke="#231f20" stroke-width="3" fill="none"/>
<path d="M1594.7,870.3 L2553.4,284.8" stroke="#231f20" stroke-width="3" fill="none"/>
<path d="M293.7,1730.3 L1254.8,1169.5" stroke="#231f20" stroke-width="3" fill="none"/>
<path d="M1600.0,1757.9 L2547.2,1040.8" stroke="#231f20" stroke-width="3" fill="none"/>
</svg></body></html>
